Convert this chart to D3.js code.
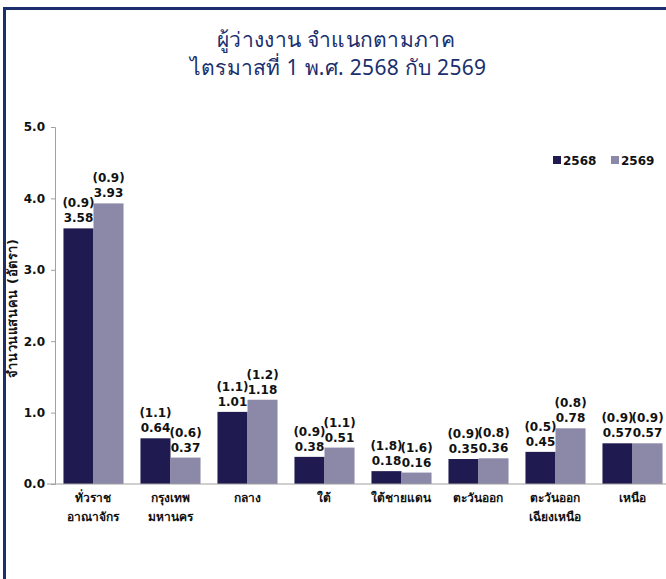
<!DOCTYPE html>
<html>
<head>
<meta charset="utf-8">
<script src="https://cdn.jsdelivr.net/npm/d3@7"></script>
<style>
  body { margin: 0; background: #fff; }
  svg { display: block; }
</style>
</head>
<body>
<svg width="666" height="579"></svg>
<script>
// ข้อมูล
const regions = [["ทั่วราช", "อาณาจักร"], ["กรุงเทพ", "มหานคร"], ["กลาง"], ["ใต้"], ["ใต้ชายแดน"], ["ตะวันออก"], ["ตะวันออก", "เฉียงเหนือ"], ["เหนือ"]];
const years = ["2568", "2569"];
const val2568 = [3.58, 0.64, 1.01, 0.38, 0.18, 0.35, 0.45, 0.57];
const val2569 = [3.93, 0.37, 1.18, 0.51, 0.16, 0.36, 0.78, 0.57];
const cv2568 = ["0.9", "1.1", "1.1", "0.9", "1.8", "0.9", "0.5", "0.9"];
const cv2569 = ["0.9", "0.6", "1.2", "1.1", "1.6", "0.8", "0.8", "0.9"];
const yTicks = [0, 1, 2, 3, 4, 5];

const colors = ["#1f1a4f", "#8c88a8"];
const navy = "#1b2f6e";

const svg = d3.select("svg");

// กรอบ
svg.append("path")
  .attr("d", "M4.5,579 L4.5,8.5 L666,8.5")
  .attr("fill", "none")
  .attr("stroke", navy)
  .attr("stroke-width", 3);

// ชื่อกราฟ
const titleFont = "'Noto Sans', 'DejaVu Sans', sans-serif";
svg.append("text")
  .attr("x", 336).attr("y", 47)
  .attr("text-anchor", "middle")
  .attr("font-family", titleFont)
  .attr("font-size", 21)
  .attr("letter-spacing", 0.3)
  .attr("fill", navy)
  .text("ผู้ว่างงาน จำแนกตามภาค");
svg.append("text")
  .attr("x", 338).attr("y", 75)
  .attr("text-anchor", "middle")
  .attr("font-family", titleFont)
  .attr("font-size", 21)
  .attr("letter-spacing", 0.3)
  .attr("fill", navy)
  .text("ไตรมาสที่ 1 พ.ศ. 2568 กับ 2569");

const x0 = d3.scaleBand()
  .domain(d3.range(regions.length))
  .range([55, 671])
  .paddingInner(0.22)
  .paddingOuter(0.11);

const x1 = d3.scaleBand()
  .domain(years)
  .range([0, x0.bandwidth()]);

const y = d3.scaleLinear()
  .domain([0, 5])
  .range([484, 127]);

const font = "'DejaVu Sans', Verdana, sans-serif";

// แกน y
const yAxis = d3.axisLeft(y)
  .tickValues(yTicks)
  .tickSize(4)
  .tickPadding(6)
  .tickFormat(d3.format(".1f"));

const gy = svg.append("g")
  .attr("transform", "translate(55,0)")
  .call(yAxis);
gy.select(".domain").attr("stroke", "#a0a0a0");
gy.selectAll(".tick line").attr("stroke", "#a0a0a0");
gy.selectAll(".tick text")
  .attr("font-family", font)
  .attr("font-weight", "bold")
  .attr("font-size", 12)
  .attr("fill", "#111");

svg.append("text")
  .attr("transform", "translate(17,308) rotate(-90)")
  .attr("text-anchor", "middle")
  .attr("font-family", font)
  .attr("font-weight", "bold")
  .attr("font-size", 13)
  .attr("letter-spacing", 0.6)
  .attr("fill", "#111")
  .text("จำนวนแสนคน (อัตรา)");

// แท่ง
const rows = regions.map((r, i) => ({
  i: i,
  vals: [
    { year: "2568", v: val2568[i], cv: cv2568[i] },
    { year: "2569", v: val2569[i], cv: cv2569[i] }
  ]
}));

const groups = svg.selectAll("g.grp")
  .data(rows)
  .enter()
  .append("g")
  .attr("class", "grp")
  .attr("transform", d => "translate(" + x0(d.i) + ",0)");

groups.selectAll("rect")
  .data(d => d.vals)
  .enter()
  .append("rect")
  .attr("x", d => x1(d.year))
  .attr("y", d => y(d.v))
  .attr("width", x1.bandwidth())
  .attr("height", d => y(0) - y(d.v))
  .attr("fill", (d, j) => colors[j]);

groups.selectAll("text.val")
  .data(d => d.vals)
  .enter()
  .append("text")
  .attr("class", "val")
  .attr("x", d => x1(d.year) + x1.bandwidth() / 2)
  .attr("y", d => y(d.v) - 6)
  .attr("text-anchor", "middle")
  .attr("font-family", font)
  .attr("font-weight", "bold")
  .attr("font-size", 12)
  .attr("fill", "#111")
  .text(d => d3.format(".2f")(d.v));

groups.selectAll("text.cv")
  .data(d => d.vals)
  .enter()
  .append("text")
  .attr("class", "cv")
  .attr("x", d => x1(d.year) + x1.bandwidth() / 2)
  .attr("y", d => y(d.v) - 21)
  .attr("text-anchor", "middle")
  .attr("font-family", font)
  .attr("font-weight", "bold")
  .attr("font-size", 12)
  .attr("fill", "#111")
  .text(d => "(" + d.cv + ")");

// เส้นฐาน
svg.append("line")
  .attr("x1", 47).attr("x2", 666)
  .attr("y1", y(0)).attr("y2", y(0))
  .attr("stroke", "#a0a0a0");

// ชื่อภาค
groups.append("text")
  .attr("x", x0.bandwidth() / 2)
  .attr("y", 502)
  .attr("text-anchor", "middle")
  .attr("font-family", font)
  .attr("font-weight", "bold")
  .attr("font-size", 12)
  .attr("fill", "#111")
  .selectAll("tspan")
  .data(d => regions[d.i])
  .enter()
  .append("tspan")
  .attr("x", x0.bandwidth() / 2)
  .attr("dy", (d, k) => k === 0 ? 0 : 19)
  .text(d => d);

// คำอธิบาย
const legend = svg.append("g").attr("transform", "translate(553,160)");
years.forEach((yr, j) => {
  const g = legend.append("g").attr("transform", "translate(" + (j * 58) + ",0)");
  g.append("rect")
    .attr("x", 0).attr("y", -4)
    .attr("width", 8).attr("height", 8)
    .attr("fill", colors[j]);
  g.append("text")
    .attr("x", 10).attr("y", 4.5)
    .attr("font-family", font)
    .attr("font-weight", "bold")
    .attr("font-size", 12)
    .attr("fill", "#111")
    .text(yr);
});
</script>
</body>
</html>
